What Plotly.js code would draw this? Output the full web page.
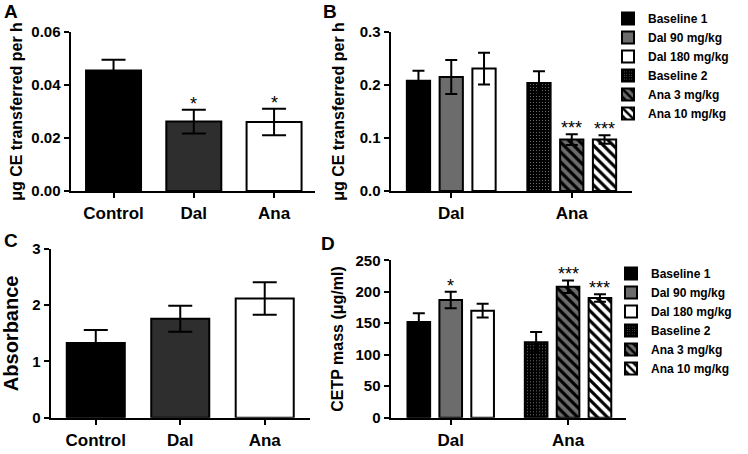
<!DOCTYPE html>
<html>
<head>
<meta charset="utf-8">
<script src="https://cdn.plot.ly/plotly-3.0.1.min.js"></script>
<style>html,body{margin:0;padding:0;background:#fff;}#chart{width:748px;height:454px;}</style>
</head>
<body>
<div id="chart"></div>
<script>
// ---------- data ----------
const catsAC = ['Control', 'Dal', 'Ana'];
const transferA = [0.0455, 0.0262, 0.0260];
const transferAErr = [0.0040, 0.0045, 0.0050];
const starsA = ['', '*', '*'];

const absorbanceC = [1.33, 1.76, 2.12];
const absorbanceCErr = [0.23, 0.23, 0.29];

const groupCats = ['Dal', 'Ana'];
const seriesNames = ['Baseline 1', 'Dal 90 mg/kg', 'Dal 180 mg/kg', 'Baseline 2', 'Ana 3 mg/kg', 'Ana 10 mg/kg'];
const seriesGroup = ['Dal', 'Dal', 'Dal', 'Ana', 'Ana', 'Ana'];
const transferB = [0.208, 0.215, 0.231, 0.204, 0.097, 0.097];
const transferBErr = [0.019, 0.032, 0.030, 0.022, 0.010, 0.008];
const starsB = ['', '', '', '', '***', '***'];

const cetpMassD = [152, 187, 170, 120, 208, 190];
const cetpMassDErr = [14, 13, 11, 16, 10, 6];
const starsD = ['', '*', '', '', '***', '***'];

// ---------- styles ----------
const FONT = 'Arial, "Liberation Sans", sans-serif';
const colorsAC = ['#000000', '#2e2e2e', '#ffffff'];
const seriesStyle = [
  {color: '#000000'},
  {color: '#6c6c6c'},
  {color: '#ffffff'},
  {color: '#000000', pattern: {shape: '.', fgcolor: '#d8d8d8', bgcolor: '#000000', size: 3, solidity: 0.06, fillmode: 'replace'}},
  {color: '#6c6c6c', pattern: {shape: '\\', fgcolor: '#000000', bgcolor: '#6c6c6c', size: 7, solidity: 0.45, fillmode: 'replace'}},
  {color: '#ffffff', pattern: {shape: '\\', fgcolor: '#000000', bgcolor: '#ffffff', size: 7, solidity: 0.45, fillmode: 'replace'}}
];
const PITCH = 0.272, BW = 0.193;
function slot(i) { return (i % 3) - 1; }

const traces = [];
// Panel A
traces.push({
  type: 'bar', x: catsAC, y: transferA, xaxis: 'x', yaxis: 'y', width: 0.685,
  marker: {color: colorsAC, line: {color: '#000', width: 2}},
  error_y: {type: 'data', array: transferAErr, visible: true, color: '#000', thickness: 2, width: 12},
  showlegend: false, hoverinfo: 'skip'
});
// Panel C
traces.push({
  type: 'bar', x: catsAC, y: absorbanceC, xaxis: 'x3', yaxis: 'y3', width: 0.687,
  marker: {color: colorsAC, line: {color: '#000', width: 2}},
  error_y: {type: 'data', array: absorbanceCErr, visible: true, color: '#000', thickness: 2, width: 12},
  showlegend: false, hoverinfo: 'skip'
});
// Panels B and D
function groupedTraces(vals, errs, xa, ya, legendId) {
  for (let i = 0; i < seriesNames.length; i++) {
    const st = seriesStyle[i];
    const marker = {color: st.color, line: {color: '#000', width: 2}};
    if (st.pattern) marker.pattern = st.pattern;
    traces.push({
      type: 'bar', name: seriesNames[i], x: [seriesGroup[i]], y: [vals[i]],
      xaxis: xa, yaxis: ya, width: [BW], offset: [slot(i) * PITCH - BW / 2],
      marker: marker,
      error_y: {type: 'data', array: [errs[i]], visible: true, color: '#000', thickness: 2, width: 6},
      legend: legendId, hoverinfo: 'skip'
    });
  }
}
groupedTraces(transferB, transferBErr, 'x2', 'y2', 'legend');
groupedTraces(cetpMassD, cetpMassDErr, 'x4', 'y4', 'legend2');

// star annotations
const annotations = [];
function starAnn(xref, yref, xpos, ytop, text) {
  annotations.push({xref: xref, yref: yref, x: xpos, y: ytop, text: text, showarrow: false,
    yanchor: 'bottom', xanchor: 'center', yshift: -6,
    font: {family: FONT, size: 18, color: '#000'}});
}
for (let i = 0; i < catsAC.length; i++) {
  if (starsA[i]) starAnn('x', 'y', i, transferA[i] + transferAErr[i], starsA[i]);
}
for (let i = 0; i < seriesNames.length; i++) {
  const gx = groupCats.indexOf(seriesGroup[i]) + slot(i) * PITCH;
  if (starsB[i]) starAnn('x2', 'y2', gx, transferB[i] + transferBErr[i], starsB[i]);
  if (starsD[i]) starAnn('x4', 'y4', gx, cetpMassD[i] + cetpMassDErr[i], starsD[i]);
}
// panel letters
[['A', 2, 454 - 12], ['B', 321, 454 - 12], ['C', 2, 454 - 240], ['D', 319, 454 - 243]].forEach(p => {
  annotations.push({xref: 'paper', yref: 'paper', x: p[1] / 748, y: p[2] / 454, text: p[0], showarrow: false,
    xanchor: 'left', yanchor: 'middle', font: {family: FONT, size: 19, color: '#000', weight: 'bold'}});
});

function yAxis(domain, range, dtick, fmt, title, tsize, standoff) {
  return {domain: domain, range: range, dtick: dtick, tick0: 0, tickformat: fmt,
    showline: true, linecolor: '#000', linewidth: 2.5, ticks: 'outside', ticklen: 5, tickwidth: 2, tickcolor: '#000',
    showgrid: false, zeroline: false, fixedrange: true,
    tickfont: {family: FONT, size: 15, color: '#000', weight: 'bold'},
    title: {text: title, standoff: standoff, font: {family: FONT, size: tsize, color: '#000', weight: 'bold'}}};
}
function xAxis(domain, range, cats, anchor) {
  return {domain: domain, range: range, type: 'category', categoryorder: 'array', categoryarray: cats,
    anchor: anchor, showline: true, linecolor: '#000', linewidth: 2.5, ticks: 'outside', ticklen: 5, tickwidth: 2,
    tickcolor: '#000', showgrid: false, zeroline: false, fixedrange: true,
    tickfont: {family: FONT, size: 17, color: '#000', weight: 'bold'}};
}
const legendBase = {xanchor: 'left', yanchor: 'top', bgcolor: 'rgba(0,0,0,0)', borderwidth: 0,
  font: {family: FONT, size: 12, color: '#000', weight: 'bold'}, itemclick: false, itemdoubleclick: false, tracegroupgap: 0};

const layout = {
  width: 748, height: 454, margin: {l: 0, r: 0, t: 0, b: 0},
  paper_bgcolor: '#fff', plot_bgcolor: 'rgba(0,0,0,0)', barmode: 'overlay', bargap: 0,
  font: {family: FONT, color: '#000'},
  xaxis: xAxis([71 / 748, 315 / 748], [-0.53, 2.51], catsAC, 'y'),
  yaxis: yAxis([0.5793, 0.9295], [0, 0.06], 0.02, '.2f', 'μg CE transferred per h', 16, 5),
  xaxis2: xAxis([391 / 748, 632 / 748], [-0.5, 1.5], groupCats, 'y2'),
  yaxis2: Object.assign(yAxis([0.5793, 0.9295], [0, 0.3], 0.1, '.1f', 'μg CE transferred per h', 16, 11), {anchor: 'x2'}),
  xaxis3: xAxis([51 / 748, 310 / 748], [-0.53, 2.536], catsAC, 'y3'),
  yaxis3: Object.assign(yAxis([0.0800, 0.4515], [0, 3], 1, 'd', 'Absorbance', 20, 9), {anchor: 'x3'}),
  xaxis4: xAxis([391 / 748, 626 / 748], [-0.509, 1.494], groupCats, 'y4'),
  yaxis4: Object.assign(yAxis([0.0800, 0.4267], [0, 250], 50, 'd', 'CETP mass (μg/ml)', 16, 8), {anchor: 'x4'}),
  legend: Object.assign({x: 608 / 748, y: 1 - 4 / 454}, legendBase),
  legend2: Object.assign({x: 611 / 748, y: 1 - 259 / 454}, legendBase),
  annotations: annotations,
  showlegend: true
};
layout.xaxis.anchor = 'y';
layout.yaxis.anchor = 'x';

Plotly.newPlot('chart', traces, layout, {staticPlot: true, displayModeBar: false});
</script>
</body>
</html>
